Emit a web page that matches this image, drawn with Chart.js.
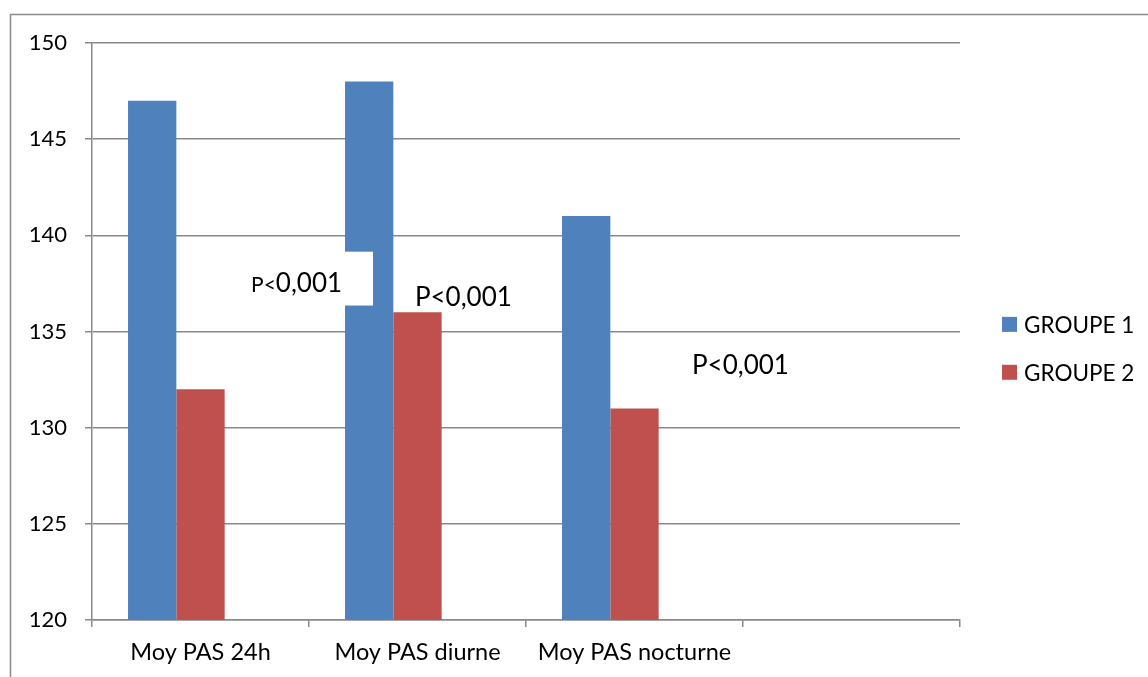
<!DOCTYPE html>
<html>
<head>
<meta charset="utf-8">
<script src="https://cdn.jsdelivr.net/npm/chart.js@4/dist/chart.umd.min.js"></script>
<style>
  html, body { margin: 0; padding: 0; background: #fff; }
  #wrap { position: relative; width: 1148px; height: 677px; }
</style>
</head>
<body>
<div id="wrap"><canvas id="c"></canvas></div>
<script>
// Mean systolic pressure (PAS) by period and group
const categories = ['Moy PAS 24h', 'Moy PAS diurne', 'Moy PAS nocturne', ''];
const groupe1 = [147, 148, 141, null];
const groupe2 = [132, 136, 131, null];
const serie3 = [null, null, null, null];   // empty third series keeps the Excel-style slot spacing
const seriesLabels = ['GROUPE 1', 'GROUPE 2'];
const yTicks = [120, 125, 130, 135, 140, 145, 150];
const pLabel = 'P<0,001';

const FONT = 'Lato, "Open Sans", sans-serif';
const BLUE = '#4F81BD';
const RED = '#C0504D';
const GRID = '#898989';

// Chart frame, significance notes and legend
const decor = {
  id: 'decor',
  afterDatasetsDraw(chart) {
    const { ctx } = chart;
    const x = chart.scales.x, y = chart.scales.y;
    const cw = x.getPixelForValue(1) - x.getPixelForValue(0);
    ctx.save();

    // outer frame
    ctx.strokeStyle = '#8c8c8c';
    ctx.lineWidth = 1.5;
    ctx.beginPath();
    ctx.moveTo(10.5, 677);
    ctx.lineTo(10.5, 14.5);
    ctx.lineTo(1148, 14.5);
    ctx.stroke();

    // text box over the diurne bar
    const bx0 = x.getPixelForValue(0) + cw * 0.205;
    const bx1 = x.getPixelForValue(1) - cw * 0.205;
    const by0 = y.getPixelForValue(139.15);
    const by1 = y.getPixelForValue(136.35);
    ctx.fillStyle = '#fff';
    ctx.fillRect(bx0, by0, bx1 - bx0, by1 - by0);

    ctx.fillStyle = '#000';
    ctx.textBaseline = 'alphabetic';
    ctx.textAlign = 'left';
    // first note: smaller "P<" followed by "0,001"
    let tx = x.getPixelForValue(0) + cw * 0.233;
    const ty = y.getPixelForValue(137.03);
    ctx.font = '21px ' + FONT;
    ctx.fillText('P<', tx, ty);
    tx += ctx.measureText('P<').width;
    ctx.font = '26px ' + FONT;
    ctx.fillText('0,001', tx, ty);

    ctx.font = '26px ' + FONT;
    ctx.fillText(pLabel, x.getPixelForValue(1) - cw * 0.012, y.getPixelForValue(136.3));
    ctx.fillText(pLabel, x.getPixelForValue(2) + cw * 0.265, y.getPixelForValue(132.77));

    // legend
    const items = chart.data.datasets.slice(0, 2);
    const ly = [y.getPixelForValue(135.37), y.getPixelForValue(132.88)];
    ctx.font = '22.5px ' + FONT;
    ctx.textBaseline = 'middle';
    items.forEach((ds, i) => {
      ctx.fillStyle = ds.backgroundColor;
      ctx.fillRect(1002, ly[i] - 7.5, 15, 15);
      ctx.fillStyle = '#000';
      ctx.fillText(ds.label, 1024, ly[i] + 1);
    });
    ctx.restore();
  }
};

new Chart(document.getElementById('c'), {
  type: 'bar',
  data: {
    labels: categories,
    datasets: [
      { label: seriesLabels[0], data: groupe1, backgroundColor: BLUE },
      { label: seriesLabels[1], data: groupe2, backgroundColor: RED },
      { label: '', data: serie3, backgroundColor: '#9BBB59' }
    ]
  },
  options: {
    responsive: true,
    maintainAspectRatio: false,
    animation: false,
    events: [],
    layout: { padding: { left: 0, top: 43, right: 188, bottom: 0 } },
    datasets: { bar: { categoryPercentage: 0.668, barPercentage: 1 } },
    plugins: { legend: { display: false }, tooltip: { enabled: false } },
    scales: {
      x: {
        offset: true,
        afterFit(s) { s.height = 57; },
        grid: { offset: true, drawOnChartArea: false, drawTicks: true, tickLength: 7, color: GRID, lineWidth: 1.5 },
        border: { color: GRID, width: 1.5 },
        ticks: { color: '#000', font: { family: FONT, size: 23.5 }, padding: 11, maxRotation: 0, autoSkip: false }
      },
      y: {
        min: yTicks[0],
        max: yTicks[yTicks.length - 1],
        afterFit(s) { s.width = 92; },
        afterBuildTicks(s) { s.ticks = yTicks.map(v => ({ value: v })); },
        grid: { color: GRID, lineWidth: 1.5, tickLength: 7 },
        border: { color: GRID, width: 1.5 },
        ticks: { color: '#000', font: { family: FONT, size: 22 }, padding: 18 }
      }
    }
  },
  plugins: [decor]
});
</script>
</body>
</html>
